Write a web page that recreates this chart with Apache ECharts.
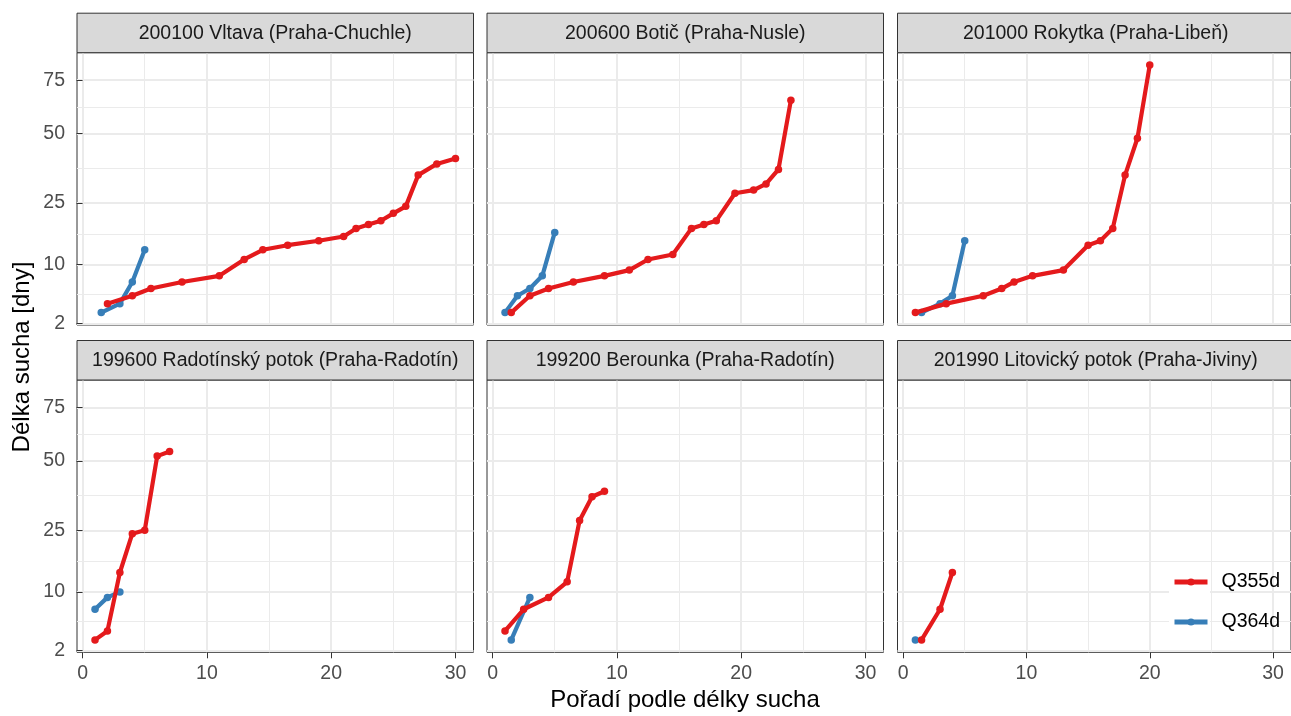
<!DOCTYPE html>
<html>
<head>
<meta charset="utf-8">
<script src="https://cdn.jsdelivr.net/npm/echarts@6/dist/echarts.min.js"></script>
<style>
html, body { margin: 0; padding: 0; background: #ffffff; }
#chart { width: 1291px; height: 716px; }
</style>
</head>
<body>
<div id="chart"></div>
<script>
// ---------------- data ----------------
const panelTitles = [
  '200100 Vltava (Praha-Chuchle)',
  '200600 Botič (Praha-Nusle)',
  '201000 Rokytka (Praha-Libeň)',
  '199600 Radotínský potok (Praha-Radotín)',
  '199200 Berounka (Praha-Radotín)',
  '201990 Litovický potok (Praha-Jiviny)'
];
const seriesNames = ['Q355d', 'Q364d'];
const seriesColors = ['#E41A1C', '#377EB8'];
const yTickLabels = [2, 10, 25, 50, 75];
const xTickLabels = [0, 10, 20, 30];
const xTitle = 'Pořadí podle délky sucha';
const yTitle = 'Délka sucha [dny]';

const vltavaQ355Rank = [2, 4, 5.5, 8, 11, 13, 14.5, 16.5, 19, 21, 22, 23, 24, 25, 26, 27, 28.5, 30];
const vltavaQ355Days = [4, 5, 6, 7, 8, 11, 13, 14, 15, 16, 18, 19, 20, 22, 24, 34, 38, 40];
const vltavaQ364Rank = [1.5, 3, 4, 5];
const vltavaQ364Days = [3, 4, 7, 13];

const boticQ355Rank = [1.5, 3, 4.5, 6.5, 9, 11, 12.5, 14.5, 16, 17, 18, 19.5, 21, 22, 23, 24];
const boticQ355Days = [3, 5, 6, 7, 8, 9, 11, 12, 18, 19, 20, 28, 29, 31, 36, 65];
const boticQ364Rank = [1, 2, 3, 4, 5];
const boticQ364Days = [3, 5, 6, 8, 17];

const rokytkaQ355Rank = [1, 3.5, 6.5, 8, 9, 10.5, 13, 15, 16, 17, 18, 19, 20];
const rokytkaQ355Days = [3, 4, 5, 6, 7, 8, 9, 14, 15, 18, 34, 48, 83];
const rokytkaQ364Rank = [1.5, 3, 4, 5];
const rokytkaQ364Days = [3, 4, 5, 15];

const radotinskyQ355Rank = [1, 2, 3, 4, 5, 6, 7];
const radotinskyQ355Days = [3, 4, 14, 24, 25, 52, 54];
const radotinskyQ364Rank = [1, 2, 3];
const radotinskyQ364Days = [7, 9, 10];

const berounkaQ355Rank = [1, 2.5, 4.5, 6, 7, 8, 9];
const berounkaQ355Days = [4, 7, 9, 12, 28, 36, 38];
const berounkaQ364Rank = [1.5, 3];
const berounkaQ364Days = [3, 9];

const litovickyQ355Rank = [1.5, 3, 4];
const litovickyQ355Days = [3, 7, 14];
const litovickyQ364Rank = [1];
const litovickyQ364Days = [3];

// ---------------- build ----------------
const panels = [
  [[vltavaQ355Rank, vltavaQ355Days], [vltavaQ364Rank, vltavaQ364Days]],
  [[boticQ355Rank, boticQ355Days], [boticQ364Rank, boticQ364Days]],
  [[rokytkaQ355Rank, rokytkaQ355Days], [rokytkaQ364Rank, rokytkaQ364Days]],
  [[radotinskyQ355Rank, radotinskyQ355Days], [radotinskyQ364Rank, radotinskyQ364Days]],
  [[berounkaQ355Rank, berounkaQ355Days], [berounkaQ364Rank, berounkaQ364Days]],
  [[litovickyQ355Rank, litovickyQ355Days], [litovickyQ364Rank, litovickyQ364Days]]
];

const FONT = '"Liberation Sans", Arial, Helvetica, sans-serif';
const colLeft = [77, 487, 897.5];
const panelW = 396.5;
const rowTop = [52.7, 380];
const panelH = 272.3;
const stripH = 39.5;

// sqrt scale (ggplot scale_y_sqrt) with 5% expansion
const sq = Math.sqrt;
let allRank = [], allDays = [];
panels.forEach(p => p.forEach(s => { allRank = allRank.concat(s[0]); allDays = allDays.concat(s[1]); }));
const yLo = sq(Math.min(...allDays)), yHi = sq(Math.max(...allDays));
const yExp = (yHi - yLo) * 0.05;
const yMin = yLo - yExp, yMax = yHi + yExp;
const xLo = Math.min(...allRank), xHi = Math.max(...allRank);
const xExp = (xHi - xLo) * 0.05;
const xMin = xLo - xExp, xMax = xHi + xExp;

const yMajor = yTickLabels.map(sq);
const yMinor = [];
for (let i = 0; i < yMajor.length - 1; i++) yMinor.push((yMajor[i] + yMajor[i + 1]) / 2);
const xMinor = [];
for (let i = 0; i < xTickLabels.length - 1; i++) xMinor.push((xTickLabels[i] + xTickLabels[i + 1]) / 2);

const grids = [], xAxes = [], yAxes = [], series = [], graphics = [];
panels.forEach((p, i) => {
  const r = Math.floor(i / 3), c = i % 3;
  grids.push({
    left: colLeft[c], top: rowTop[r], width: panelW, height: panelH,
    show: true, backgroundColor: '#ffffff', borderColor: '#333333', borderWidth: 1
  });
  // major x
  xAxes.push({
    gridIndex: i, type: 'value', min: xMin, max: xMax, position: 'bottom',
    axisLine: { show: false },
    axisTick: { show: r === 1, customValues: xTickLabels, length: 6, lineStyle: { color: '#333333', width: 1 } },
    axisLabel: { show: r === 1, customValues: xTickLabels, color: '#4D4D4D', fontSize: 19.5, fontFamily: FONT, margin: 11 },
    splitLine: { show: true, lineStyle: { color: '#EBEBEB', width: 2 } }
  });
  // minor x
  xAxes.push({
    gridIndex: i, type: 'value', min: xMin, max: xMax, position: 'bottom',
    axisLine: { show: false },
    axisTick: { show: false, customValues: xMinor },
    axisLabel: { show: false, customValues: xMinor },
    splitLine: { show: true, lineStyle: { color: '#EBEBEB', width: 1 } }
  });
  // major y
  yAxes.push({
    gridIndex: i, type: 'value', min: yMin, max: yMax, position: 'left',
    axisLine: { show: false },
    axisTick: { show: c === 0, customValues: yMajor, length: 6, lineStyle: { color: '#333333', width: 1 } },
    axisLabel: { show: c === 0, customValues: yMajor, formatter: v => String(Math.round(v * v)),
      color: '#4D4D4D', fontSize: 19.5, fontFamily: FONT, margin: 12 },
    splitLine: { show: true, lineStyle: { color: '#EBEBEB', width: 2 } }
  });
  // minor y
  yAxes.push({
    gridIndex: i, type: 'value', min: yMin, max: yMax, position: 'left',
    axisLine: { show: false },
    axisTick: { show: false, customValues: yMinor },
    axisLabel: { show: false, customValues: yMinor },
    splitLine: { show: true, lineStyle: { color: '#EBEBEB', width: 1 } }
  });
  // series (Q364d first so Q355d draws on top)
  [1, 0].forEach(k => {
    const [rank, days] = p[k];
    series.push({
      name: seriesNames[k], type: 'line',
      xAxisIndex: 2 * i, yAxisIndex: 2 * i,
      data: rank.map((x, j) => [x, sq(days[j])]),
      symbol: 'circle', symbolSize: 7.5, showSymbol: true,
      color: seriesColors[k],
      lineStyle: { width: 4.2, color: seriesColors[k] },
      itemStyle: { color: seriesColors[k] },
      z: k === 0 ? 3 : 2,
      silent: true, animation: false
    });
  });
  // strip
  graphics.push({
    type: 'rect', z: 5,
    shape: { x: colLeft[c], y: rowTop[r] - stripH, width: panelW, height: stripH },
    style: { fill: '#D9D9D9', stroke: '#333333', lineWidth: 1 }
  });
  graphics.push({
    type: 'text', z: 6,
    x: colLeft[c] + panelW / 2, y: rowTop[r] - stripH / 2 + 0.5,
    style: { text: panelTitles[i], fill: '#1A1A1A', font: '19.5px ' + FONT,
      align: 'center', verticalAlign: 'middle', textAlign: 'center', textVerticalAlign: 'middle' }
  });
});

// legend key background
graphics.push({
  type: 'rect', z: 3,
  shape: { x: 1169, y: 562, width: 41, height: 80 },
  style: { fill: '#ffffff' }
});
// axis titles
graphics.push({
  type: 'text', z: 6, x: 685, y: 700.5,
  style: { text: xTitle, fill: '#000000', font: '24px ' + FONT,
    align: 'center', verticalAlign: 'middle', textAlign: 'center', textVerticalAlign: 'middle' }
});
graphics.push({
  type: 'text', z: 6, x: 22, y: 357, rotation: Math.PI / 2,
  style: { text: yTitle, fill: '#000000', font: '24px ' + FONT,
    align: 'center', verticalAlign: 'middle', textAlign: 'center', textVerticalAlign: 'middle' }
});

const chart = echarts.init(document.getElementById('chart'), null, { renderer: 'canvas' });
chart.setOption({
  animation: false,
  backgroundColor: '#ffffff',
  grid: grids,
  xAxis: xAxes,
  yAxis: yAxes,
  series: series,
  legend: {
    data: seriesNames,
    orient: 'vertical',
    left: 1172, top: 572,
    padding: 0,
    itemWidth: 33, itemHeight: 9, itemGap: 20,
    lineStyle: { width: 5 },
    textStyle: { color: '#000000', fontSize: 19.5, fontFamily: FONT, padding: [0, 0, 0, 9] },
    z: 8
  },
  graphic: { elements: graphics }
});
</script>
</body>
</html>
